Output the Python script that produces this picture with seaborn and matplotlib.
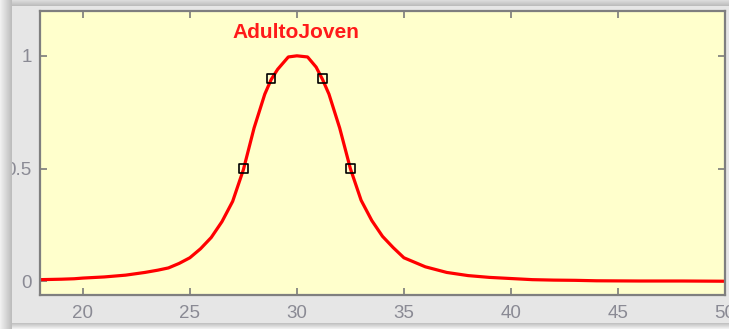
import matplotlib
matplotlib.use("Agg")
import matplotlib.pyplot as plt
from matplotlib.patches import Rectangle
import seaborn as sns
import pandas as pd

# ---- data ----
curve_x = [18, 19, 19.6, 20, 21, 22, 22.9, 23.5, 24, 24.5, 25, 25.5, 26, 26.5, 27, 27.5,
           28, 28.5, 28.8, 29.1, 29.6, 30, 30.5, 30.9, 31.2, 31.5, 32, 32.5, 33, 33.5,
           34, 34.5, 35, 36, 37, 38, 39, 40, 41, 42, 43, 44, 46, 48, 50]
curve_y = [0.008, 0.010, 0.012, 0.015, 0.020, 0.028, 0.040, 0.050, 0.060, 0.080, 0.105,
           0.145, 0.195, 0.265, 0.355, 0.495, 0.68, 0.83, 0.895, 0.94, 0.995, 1.0, 0.995,
           0.95, 0.895, 0.83, 0.68, 0.50, 0.36, 0.27, 0.20, 0.15, 0.105, 0.065, 0.040,
           0.026, 0.018, 0.013, 0.008, 0.006, 0.005, 0.003, 0.002, 0.002, 0.001]
marker_x = [27.5, 28.8, 31.2, 32.5]
marker_y = [0.5, 0.9, 0.9, 0.5]
label_text = "AdultoJoven"
x_ticks = [20, 25, 30, 35, 40, 45, 50]
y_ticks = [0, 0.5, 1]
y_tick_labels = ["0", "0.5", "1"]

curve = pd.DataFrame({"x": curve_x, "y": curve_y})
marks = pd.DataFrame({"x": marker_x, "y": marker_y})

sns.set_theme(style="ticks")
plt.rcParams["font.family"] = ["Liberation Sans", "DejaVu Sans"]

W, H = 729, 329
fig = plt.figure(figsize=(W / 100, H / 100), dpi=100, facecolor="#f2f2f2")

# panel + shadow (figure decoration)
pl, pt, pb = 12, 6, 323
def fx(px):
    return px / W
def fy(py):
    return 1 - py / H

for i in range(pl):
    t = i / (pl - 1)
    c = 0.94 - 0.20 * t
    fig.add_artist(Rectangle((fx(i), 0), fx(1), 1, transform=fig.transFigure,
                             facecolor=(c, c, c), edgecolor="none", zorder=20))
for i in range(pt):
    t = i / (pt - 1)
    c = 0.86 - 0.12 * t
    fig.add_artist(Rectangle((fx(pl), fy(i + 1)), 1, fy(i) - fy(i + 1), transform=fig.transFigure,
                             facecolor=(c, c, c), edgecolor="none", zorder=20))
nb = H - pb
for i in range(nb):
    t = i / max(nb - 1, 1)
    c = 0.76 + 0.18 * t
    fig.add_artist(Rectangle((fx(pl), fy(pb + i + 1)), 1, fy(pb + i) - fy(pb + i + 1),
                             transform=fig.transFigure,
                             facecolor=(c, c, c), edgecolor="none", zorder=20))
fig.add_artist(Rectangle((fx(pl), fy(pb)), 1, fy(pt) - fy(pb), transform=fig.transFigure,
                         facecolor="#e6e6e6", edgecolor="none", zorder=-10))

ax_l, ax_r, ax_t, ax_b = 40, 725, 10.7, 295
ax = fig.add_axes([fx(ax_l), fy(ax_b), fx(ax_r) - fx(ax_l), fy(ax_t) - fy(ax_b)])
ax.set_facecolor("#ffffcc")

sns.lineplot(data=curve, x="x", y="y", ax=ax, color="#ff0000", linewidth=2.3,
             sort=False, estimator=None)
sns.scatterplot(data=marks, x="x", y="y", ax=ax, marker="s", s=38,
                facecolor="none", edgecolor="black", linewidth=1.2, zorder=5)

ax.text(29.95, 1.105, label_text, color="#ff1a1a", fontsize=15, fontweight="bold",
        ha="center", va="center")

ax.set_xlim(18, 50)
ax.set_ylim(-0.06, 1.2)
ax.set_xticks(x_ticks)
ax.set_yticks(y_ticks)
ax.set_yticklabels(y_tick_labels)
ax.set_xlabel("")
ax.set_ylabel("")
ax.tick_params(axis="both", direction="in", length=5, width=1.2, color="#7a7a7a",
               labelsize=13.5, labelcolor="#8a8a94", top=True, right=True)
ax.tick_params(axis="x", pad=7)
ax.tick_params(axis="y", pad=6)
for s in ax.spines.values():
    s.set_color("#7f7f7f")
    s.set_linewidth(1.6)
    s.set_visible(True)

fig.savefig("out.png", dpi=100, facecolor=fig.get_facecolor())
